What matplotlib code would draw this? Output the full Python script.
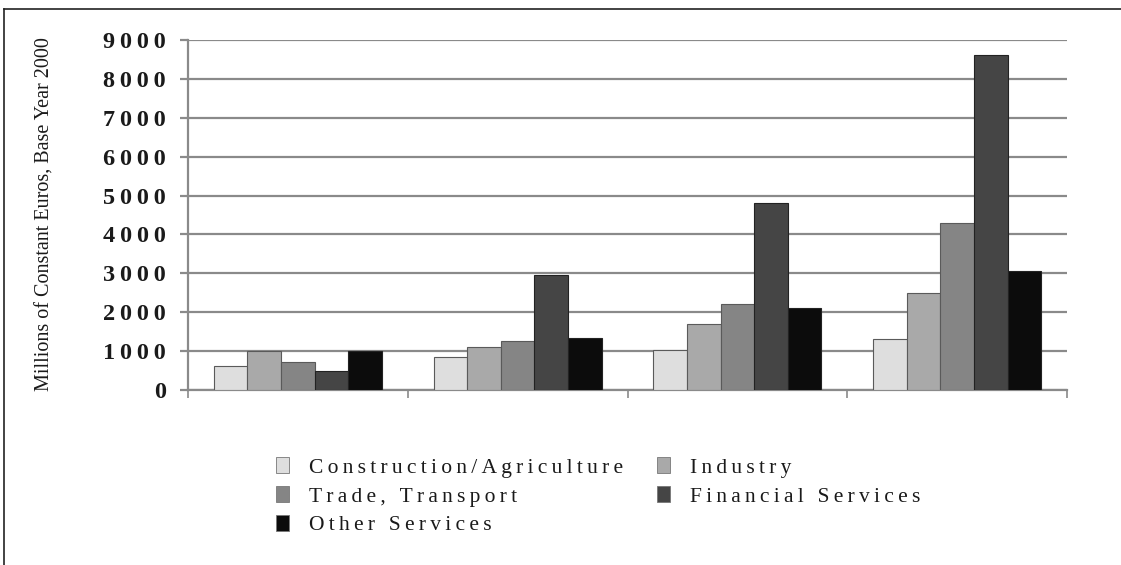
import numpy as np
import matplotlib
matplotlib.use("Agg")
import matplotlib.pyplot as plt
from matplotlib.patches import Patch
from matplotlib.lines import Line2D
from matplotlib.ticker import FixedLocator, FuncFormatter

# valores (millones de euros constantes, base 2000)
sectores = ['Construction/Agriculture', 'Industry', 'Trade, Transport',
            'Financial Services', 'Other Services']
construccion = [620, 850, 1030, 1320]
industria = [1000, 1100, 1700, 2500]
comercio = [730, 1260, 2220, 4300]
financieros = [490, 2950, 4800, 8620]
otros = [1000, 1330, 2110, 3060]
colores = ['#dedede', '#a9a9a9', '#858585', '#454545', '#0c0c0c']
ticksY = [0, 1000, 2000, 3000, 4000, 5000, 6000, 7000, 8000, 9000]

series = [construccion, industria, comercio, financieros, otros]

def espaciar(texto):
    # el original tiene las letras separadas
    return '\u2009'.join(texto)

plt.rcParams['font.family'] = ['Liberation Serif', 'DejaVu Serif']

fig = plt.figure(figsize=(11.21, 5.65), dpi=100)
ax = fig.add_axes([188/1121, 1-390/565, (1067-188)/1121, 350/565])

grises = '#8a8a8a'
ancho = 0.153
x = np.arange(len(construccion))
for i, valores in enumerate(series):
    ax.bar(x + (i-2)*ancho, valores, ancho, color=colores[i],
           edgecolor='#5a5a5a' if i < 3 else '#222222', linewidth=0.8, zorder=3)

ax.set_xlim(-0.5, len(construccion)-0.5)
ax.set_ylim(0, 9000)
ax.yaxis.set_major_locator(FixedLocator(ticksY))
ax.yaxis.set_major_formatter(FuncFormatter(lambda v, p: espaciar(str(int(v)))))
ax.xaxis.set_major_locator(FixedLocator(np.arange(len(construccion)+1) - 0.5))
ax.set_xticklabels([])
ax.grid(axis='y', color=grises, linewidth=1.6, zorder=0)
ax.set_axisbelow(True)
for s in ['top', 'right']:
    ax.spines[s].set_visible(False)
for s in ['left', 'bottom']:
    ax.spines[s].set_color(grises)
    ax.spines[s].set_linewidth(1.6)
ax.tick_params(axis='y', length=6, width=1.6, color=grises, labelsize=17.5,
               labelcolor='#1a1a1a', pad=10)
ax.tick_params(axis='x', length=6, width=1.2, color=grises)
for t in ax.get_yticklabels():
    t.set_fontweight('bold')

fig.text(45/1121, 1-214/565, 'Millions of Constant Euros, Base Year 2000',
         rotation=90, ha='center', va='center', fontsize=14.5, color='#1a1a1a')

# leyenda: orden por columnas para que quede como el original
orden = [0, 2, 4, 1, 3]
manijas = [Patch(facecolor=colores[i], edgecolor='#777777', linewidth=0.6) for i in orden]
etiquetas = [espaciar(sectores[i]) for i in orden]
fig.legend(manijas, etiquetas, ncol=2, loc='upper left',
           bbox_to_anchor=(257/1121, 1-438/565), frameon=False,
           fontsize=15.5, handlelength=0.6, handleheight=0.75, handletextpad=0.9,
           columnspacing=1.6, labelspacing=0.39, labelcolor='#1a1a1a')

# marco superior e izquierdo
fig.add_artist(Line2D([4/1121, 1], [1-9/565, 1-9/565], color='#222222', linewidth=1.2))
fig.add_artist(Line2D([4/1121, 4/1121], [0, 1-9/565], color='#222222', linewidth=1.2))

fig.savefig('out.png', dpi=100)
